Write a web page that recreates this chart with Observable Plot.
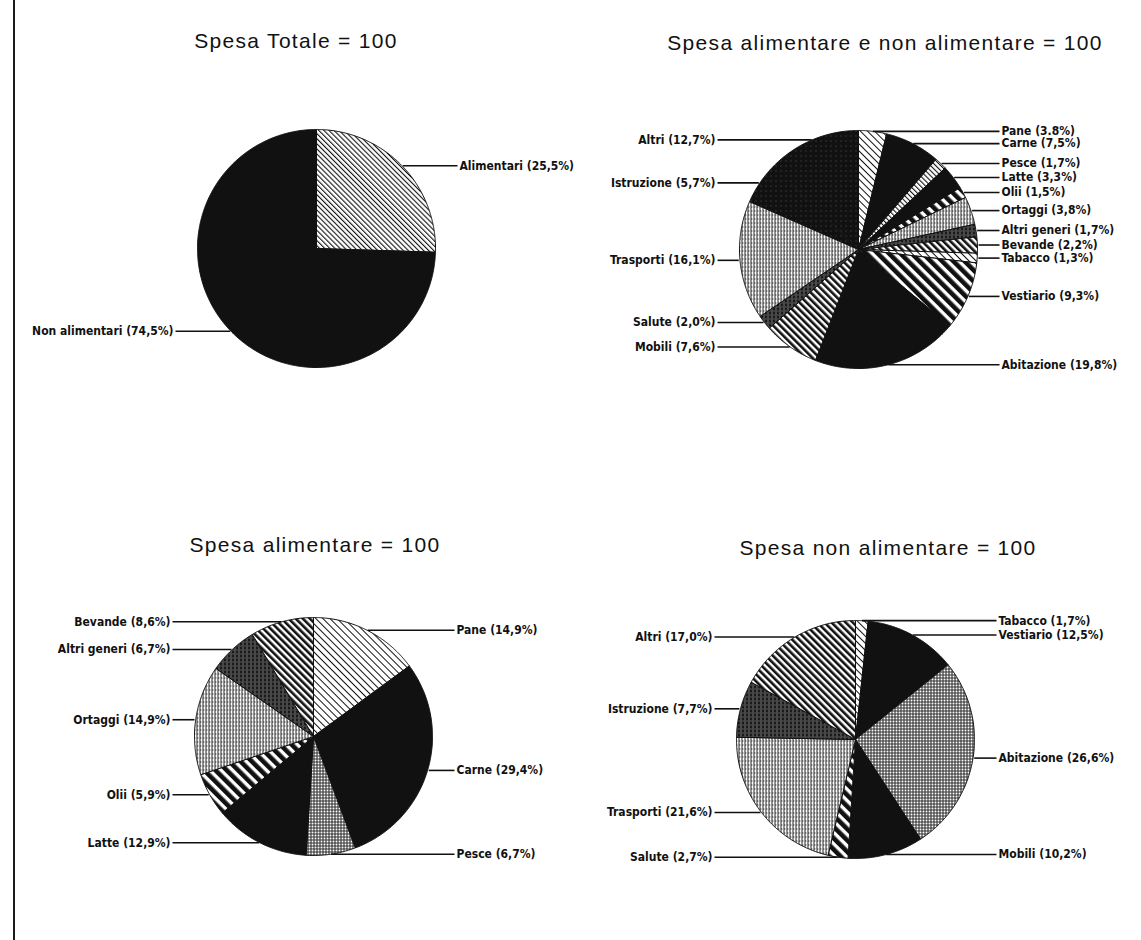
<!DOCTYPE html>
<html><head><meta charset="utf-8">
<script src="https://cdn.jsdelivr.net/npm/d3@7"></script>
<script src="https://cdn.jsdelivr.net/npm/@observablehq/plot@0.6"></script>
<style>
body{margin:0;background:#fff;overflow:hidden}
#page{position:relative;width:1141px;height:940px;overflow:hidden;background:#fff}
.title{position:absolute;font-family:"Liberation Sans",Arial,Helvetica,sans-serif;font-size:21px;line-height:1;color:#111;white-space:nowrap;transform:translateX(-50%);letter-spacing:1.3px}
.panel{position:absolute;width:600px;height:330px}
.panel svg{max-width:none !important}
#border{position:absolute;left:13px;top:0;width:2px;height:940px;background:#1a1a1a}
</style></head><body>
<svg width="0" height="0" style="position:absolute">
<defs>
<pattern id="diagFine" width="3.6" height="3.6" patternUnits="userSpaceOnUse" patternTransform="rotate(-45)"><rect width="3.6" height="3.6" fill="#fff"/><rect width="1.1" height="3.6" fill="#111"/></pattern>
<pattern id="diagSparse" width="5" height="5" patternUnits="userSpaceOnUse" patternTransform="rotate(-45)"><rect width="5" height="5" fill="#fff"/><rect width="1" height="5" fill="#111"/></pattern>
<pattern id="stripeBold" width="8" height="8" patternUnits="userSpaceOnUse" patternTransform="rotate(-45)"><rect width="8" height="8" fill="#fff"/><rect width="4.6" height="8" fill="#111"/></pattern>
<pattern id="stripeMed" width="5" height="5" patternUnits="userSpaceOnUse" patternTransform="rotate(-45)"><rect width="5" height="5" fill="#fff"/><rect width="2.6" height="5" fill="#111"/></pattern>
<pattern id="grayFine" width="3" height="4" patternUnits="userSpaceOnUse"><rect width="3" height="4" fill="#fff"/><rect width="1" height="4" fill="#222"/><rect x="1" y="2" width="1" height="1" fill="#444"/></pattern>
<pattern id="grayMed" width="3" height="3" patternUnits="userSpaceOnUse"><rect width="3" height="3" fill="#fff"/><rect width="1" height="3" fill="#222"/><rect x="1" y="1" width="2" height="1" fill="#333"/></pattern>
<pattern id="darkVert" width="4" height="4" patternUnits="userSpaceOnUse"><rect width="4" height="4" fill="#1a1a1a"/><rect x="1" width="1" height="4" fill="#777"/><rect x="3" y="2" width="1" height="1" fill="#999"/></pattern>
<pattern id="nearBlack" width="5" height="5" patternUnits="userSpaceOnUse"><rect width="5" height="5" fill="#111"/><rect x="2" y="1" width="1" height="1" fill="#555"/></pattern>
</defs></svg>
<div id="page"><div id="border"></div></div>
<script>
// ---------- data ----------
const titleTexts = ["Spesa Totale = 100", "Spesa alimentare e non alimentare = 100", "Spesa alimentare = 100", "Spesa non alimentare = 100"];

const totaleNames = ["Alimentari", "Non alimentari"];
const totaleValues = [25.5, 74.5];
const totaleLabels = ["Alimentari (25,5%)", "Non alimentari (74,5%)"];
const totaleFills = ["url(#diagFine)", "#111"];

const complNames = ["Pane", "Carne", "Pesce", "Latte", "Olii", "Ortaggi", "Altri generi", "Bevande", "Tabacco", "Vestiario", "Abitazione", "Mobili", "Salute", "Trasporti", "Istruzione", "Altri"];
const complValues = [3.8, 7.5, 1.7, 3.3, 1.5, 3.8, 1.7, 2.2, 1.3, 9.3, 19.8, 7.6, 2.0, 16.1, 5.7, 12.7];
const complLabels = ["Pane (3.8%)", "Carne (7,5%)", "Pesce (1,7%)", "Latte (3,3%)", "Olii (1,5%)", "Ortaggi (3,8%)", "Altri generi (1,7%)", "Bevande (2,2%)", "Tabacco (1,3%)", "Vestiario (9,3%)", "Abitazione (19,8%)", "Mobili (7,6%)", "Salute (2,0%)", "Trasporti (16,1%)", "Istruzione (5,7%)", "Altri (12,7%)"];
const complFills = ["url(#diagSparse)", "#111", "url(#diagFine)", "#111", "url(#stripeBold)", "url(#grayFine)", "url(#darkVert)", "url(#stripeMed)", "url(#diagSparse)", "url(#stripeBold)", "#111", "url(#stripeMed)", "url(#darkVert)", "url(#grayFine)", "url(#nearBlack)", "url(#nearBlack)"];

const alimNames = ["Pane", "Carne", "Pesce", "Latte", "Olii", "Ortaggi", "Altri generi", "Bevande"];
const alimValues = [14.9, 29.4, 6.7, 12.9, 5.9, 14.9, 6.7, 8.6];
const alimLabels = ["Pane (14,9%)", "Carne (29,4%)", "Pesce (6,7%)", "Latte (12,9%)", "Olii (5,9%)", "Ortaggi (14,9%)", "Altri generi (6,7%)", "Bevande (8,6%)"];
const alimFills = ["url(#diagSparse)", "#111", "url(#grayMed)", "#111", "url(#stripeBold)", "url(#grayFine)", "url(#darkVert)", "url(#stripeMed)"];

const nonAlimNames = ["Tabacco", "Vestiario", "Abitazione", "Mobili", "Salute", "Trasporti", "Istruzione", "Altri"];
const nonAlimValues = [1.7, 12.5, 26.6, 10.2, 2.7, 21.6, 7.7, 17.0];
const nonAlimLabels = ["Tabacco (1,7%)", "Vestiario (12,5%)", "Abitazione (26,6%)", "Mobili (10,2%)", "Salute (2,7%)", "Trasporti (21,6%)", "Istruzione (7,7%)", "Altri (17,0%)"];
const nonAlimFills = ["url(#diagSparse)", "#111", "url(#grayMed)", "#111", "url(#stripeBold)", "url(#grayFine)", "url(#darkVert)", "url(#stripeMed)"];

// ---------- layout ----------
const R = 119;             // pie radius in px
const W = 600, H = 330;    // panel size
const panels = [
  {names: totaleNames, values: totaleValues, labels: totaleLabels, fills: totaleFills, left: 16, top: 83},
  {names: complNames, values: complValues, labels: complLabels, fills: complFills, left: 558, top: 84},
  {names: alimNames, values: alimValues, labels: alimLabels, fills: alimFills, left: 13, top: 571},
  {names: nonAlimNames, values: nonAlimValues, labels: nonAlimLabels, fills: nonAlimFills, left: 555, top: 574}
];
const titlePos = [{x: 296, top: 30}, {x: 885, top: 32}, {x: 315, top: 534}, {x: 888, top: 537}];

const page = document.getElementById("page");
titleTexts.forEach((t, i) => {
  const d = document.createElement("div");
  d.className = "title";
  d.textContent = t;
  d.style.left = titlePos[i].x + "px";
  d.style.top = titlePos[i].top + "px";
  page.appendChild(d);
});

function buildPie(p) {
  const total = d3.sum(p.values);
  const poly = [], lab = [];
  let acc = 0;
  p.names.forEach((n, i) => {
    const a0 = acc / total * 2 * Math.PI;
    acc += p.values[i];
    const a1 = acc / total * 2 * Math.PI;
    const steps = Math.max(2, Math.ceil((a1 - a0) / (Math.PI / 360)));
    poly.push({name: n, x: 0, y: 0, fill: p.fills[i]});
    for (let k = 0; k <= steps; k++) {
      const a = a0 + (a1 - a0) * k / steps;
      poly.push({name: n, x: Math.sin(a), y: -Math.cos(a), fill: p.fills[i]});
    }
    poly.push({name: n, x: 0, y: 0, fill: p.fills[i]});
    const am = (a0 + a1) / 2;
    lab.push({name: n, label: p.labels[i], xa: Math.sin(am), y: -Math.cos(am), side: Math.sin(am) >= 0 ? 1 : -1});
  });
  return {poly, lab};
}

const LX = 143 / R;  // label offset
const LL = 141 / R;  // leader end
const labelFont = "'DejaVu Sans Condensed', 'DejaVu Sans', sans-serif";
panels.forEach(p => {
  const {poly, lab} = buildPie(p);
  const chart = Plot.plot({
    width: W, height: H, margin: 0,
    style: {background: "transparent", overflow: "visible", maxWidth: "none"},
    x: {domain: [-W / 2 / R, W / 2 / R], range: [0, W], axis: null},
    y: {domain: [-H / 2 / R, H / 2 / R], range: [0, H], axis: null},
    color: {type: "identity"},
    marks: [
      Plot.line(poly, {x: "x", y: "y", z: "name", fill: "fill", stroke: "#111", strokeWidth: 1, curve: "linear"}),
      Plot.link(lab, {x1: d => d.xa * 1.01, x2: d => d.side * LL, y1: "y", y2: "y", stroke: "#111", strokeWidth: 1.6}),
      Plot.text(lab.filter(d => d.side > 0), {x: () => LX, y: "y", text: "label", textAnchor: "start", fontFamily: labelFont, fontWeight: "bold", fontSize: 12, fill: "#111", fontVariant: "normal"}),
      Plot.text(lab.filter(d => d.side < 0), {x: () => -LX, y: "y", text: "label", textAnchor: "end", fontFamily: labelFont, fontWeight: "bold", fontSize: 12, fill: "#111"})
    ]
  });
  const wrap = document.createElement("div");
  wrap.className = "panel";
  wrap.style.left = p.left + "px";
  wrap.style.top = p.top + "px";
  wrap.appendChild(chart);
  page.appendChild(wrap);
});
</script>
</body></html>
